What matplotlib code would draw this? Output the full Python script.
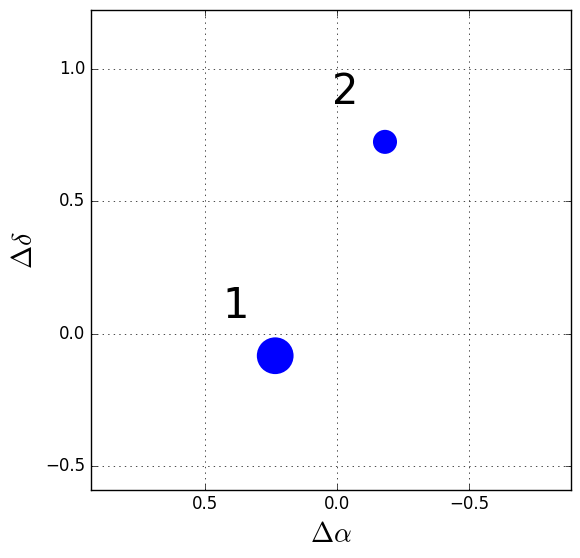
import numpy as np
import matplotlib
matplotlib.use("Agg")
import matplotlib.pyplot as plt

plt.style.use('classic')

# offsets of the two components
dalpha = [0.234, -0.181]
ddelta = [-0.083, 0.725]
sizes = [700, 300]
labels = ['1', '2']
label_x = [0.434, 0.019]
label_y = [0.060, 0.868]

fig = plt.figure(figsize=(5.8, 5.58), dpi=100)
ax = fig.add_axes([0.157, 0.122, 0.827, 0.860])

ax.scatter(dalpha, ddelta, s=sizes, c='blue', edgecolors='none', zorder=3)
for lx, ly, lab in zip(label_x, label_y, labels):
    ax.text(lx, ly, lab, fontsize=30, ha='left', va='baseline')

ax.set_xlim(0.93, -0.883)
ax.set_ylim(-0.59, 1.223)
ax.set_xticks([0.5, 0.0, -0.5])
ax.set_yticks([-0.5, 0.0, 0.5, 1.0])
ax.grid(True)
ax.set_xlabel(r'$\Delta\alpha$', fontsize=20)
ax.set_ylabel(r'$\Delta\delta$', fontsize=20)

fig.savefig('out.png', dpi=100)
